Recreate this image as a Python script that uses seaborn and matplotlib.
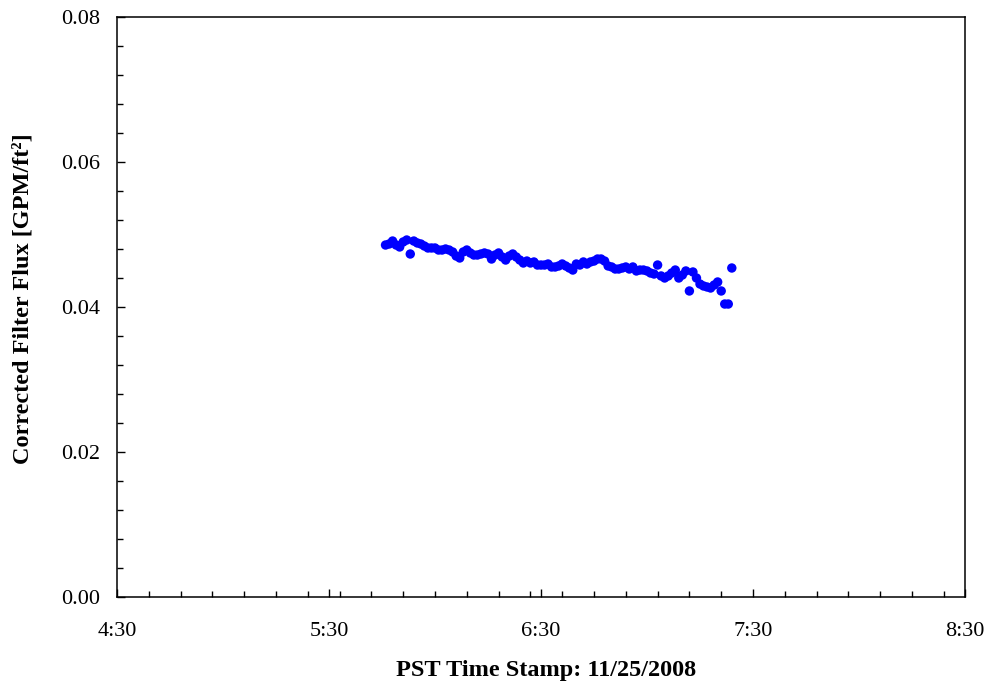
import matplotlib
matplotlib.use("Agg")
import matplotlib.pyplot as plt
import seaborn as sns
import pandas as pd
from matplotlib.ticker import MultipleLocator, FixedLocator

times = ["5:46", "5:47", "5:48", "5:49", "5:50", "5:51", "5:52", "5:53", "5:54", "5:55",
         "5:56", "5:57", "5:58", "5:59", "6:00", "6:01", "6:02", "6:03", "6:04", "6:05",
         "6:06", "6:07", "6:08", "6:09", "6:10", "6:11", "6:12", "6:13", "6:14", "6:15",
         "6:16", "6:17", "6:18", "6:19", "6:20", "6:21", "6:22", "6:23", "6:24", "6:25",
         "6:26", "6:27", "6:28", "6:29", "6:30", "6:31", "6:32", "6:33", "6:34", "6:35",
         "6:36", "6:37", "6:38", "6:39", "6:40", "6:41", "6:42", "6:43", "6:44", "6:45",
         "6:46", "6:47", "6:48", "6:49", "6:50", "6:51", "6:52", "6:53", "6:54", "6:55",
         "6:56", "6:57", "6:58", "6:59", "7:00", "7:01", "7:02", "7:03", "7:04", "7:05",
         "7:06", "7:07", "7:08", "7:09", "7:10", "7:11", "7:12", "7:13", "7:14", "7:15",
         "7:16", "7:17", "7:18", "7:19", "7:20", "7:21", "7:22", "7:23", "7:24"]

flux = [0.04855, 0.04869, 0.04910, 0.04855, 0.04828, 0.04897, 0.04924, 0.04731, 0.04910, 0.04883,
        0.04869, 0.04841, 0.04814, 0.04814, 0.04814, 0.04786, 0.04786, 0.04800, 0.04786, 0.04759,
        0.04703, 0.04676, 0.04759, 0.04786, 0.04745, 0.04717, 0.04717, 0.04731, 0.04745, 0.04731,
        0.04662, 0.04717, 0.04745, 0.04690, 0.04648, 0.04703, 0.04731, 0.04690, 0.04648, 0.04607,
        0.04634, 0.04607, 0.04621, 0.04579, 0.04579, 0.04579, 0.04593, 0.04552, 0.04552, 0.04566,
        0.04593, 0.04566, 0.04538, 0.04510, 0.04593, 0.04579, 0.04621, 0.04593, 0.04621, 0.04634,
        0.04662, 0.04662, 0.04634, 0.04566, 0.04552, 0.04524, 0.04524, 0.04538, 0.04552, 0.04524,
        0.04552, 0.04497, 0.04510, 0.04510, 0.04497, 0.04469, 0.04455, 0.04579, 0.04428, 0.04400,
        0.04428, 0.04469, 0.04510, 0.04400, 0.04441, 0.04497, 0.04221, 0.04483, 0.04400, 0.04317,
        0.04290, 0.04276, 0.04262, 0.04303, 0.04345, 0.04221, 0.04041, 0.04041, 0.04538]

x_tick_labels = ["4:30", "5:30", "6:30", "7:30", "8:30"]


def to_hours(s):
    h, m = s.split(":")
    return int(h) + int(m) / 60.0


df = pd.DataFrame({"t": [to_hours(s) for s in times], "flux": flux})

sns.set_theme(style="white")
plt.rcParams["font.family"] = ["Liberation Serif", "DejaVu Serif"]

fig = plt.figure(figsize=(9.87, 6.82), dpi=100)
ax = fig.add_axes([117 / 987, 1 - 597 / 682, (965 - 117) / 987, (597 - 17) / 682])

sns.scatterplot(data=df, x="t", y="flux", ax=ax, color="#0000ff", s=46,
                edgecolor="none", linewidth=0, legend=False)

ax.set_xlim(to_hours(x_tick_labels[0]), to_hours(x_tick_labels[-1]))
ax.set_ylim(0.0, 0.08)
ax.xaxis.set_major_locator(FixedLocator([to_hours(s) for s in x_tick_labels]))
ax.set_xticklabels(x_tick_labels)
ax.xaxis.set_minor_locator(MultipleLocator(0.15))
ax.yaxis.set_major_locator(MultipleLocator(0.02))
ax.yaxis.set_minor_locator(MultipleLocator(0.004))
ax.yaxis.set_major_formatter(matplotlib.ticker.FormatStrFormatter("%.2f"))

for sp in ax.spines.values():
    sp.set_visible(True)
    sp.set_color("black")
    sp.set_linewidth(1.1)

ax.tick_params(axis="both", which="major", direction="in", length=6, width=1,
               colors="black", labelsize=16, top=False, right=False,
               bottom=True, left=True)
ax.tick_params(axis="both", which="minor", direction="in", length=4, width=1,
               colors="black", top=False, right=False, bottom=True, left=True)
ax.tick_params(axis="x", which="major", pad=18)
ax.tick_params(axis="y", which="major", pad=12)

ax.set_xlabel("PST Time Stamp: 11/25/2008", fontsize=17.5, fontweight="bold",
              labelpad=14, color="black")
ax.set_ylabel("Corrected Filter Flux [GPM/ft²]", fontsize=17.5, fontweight="bold",
              labelpad=20, color="black")
ax.xaxis.label.set_x(0.5065)
ax.yaxis.label.set_y(0.515)
ax.grid(False)

fig.savefig("out.png", dpi=100, facecolor="white")
